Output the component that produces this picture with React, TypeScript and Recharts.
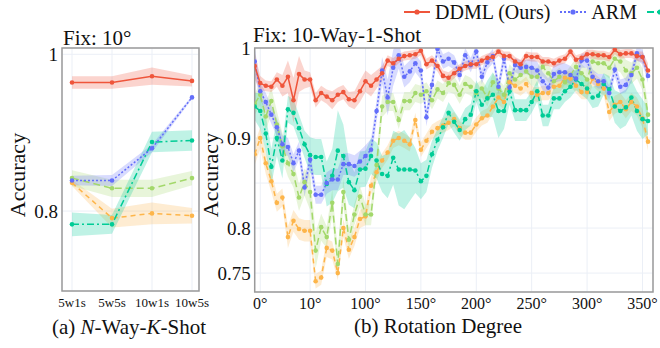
import { ComposedChart, Line, Area, XAxis, YAxis, CartesianGrid, ReferenceArea } from 'recharts';

const FONT = '"Liberation Serif", "Times New Roman", serif';

// ---------------------------------------------------------------------------
// Data: (a) N-Way-K-Shot, rotation fixed at 10°
// ---------------------------------------------------------------------------

const SHOT_LABELS = ['5w1s', '5w5s', '10w1s', '10w5s'];
const SHOT_DDML = [0.964, 0.964, 0.972, 0.966];
const SHOT_ARM = [0.839, 0.839, 0.88, 0.945];
const SHOT_TEAL = [0.783, 0.783, 0.888, 0.89];
const SHOT_GREEN = [0.842, 0.829, 0.829, 0.842];
const SHOT_ORANGE = [0.836, 0.791, 0.797, 0.794];
const SHOT_DDML_STD = [0.008, 0.008, 0.011, 0.007];
const SHOT_ARM_STD = [0.006, 0.007, 0.005, 0.002];
const SHOT_TEAL_STD = [0.015, 0.012, 0.013, 0.013];
const SHOT_GREEN_STD = [0.01, 0.011, 0.011, 0.009];
const SHOT_ORANGE_STD = [0.004, 0.012, 0.014, 0.01];

// ---------------------------------------------------------------------------
// Data: (b) rotation degree, 10-way-1-shot (one value per evaluated angle)
// ---------------------------------------------------------------------------

const ROT_TICKS = [1, 10, 20, 30, 40, 50, 60, 70];
const ROT_TICK_LABELS = ['0°', '10°', '100°', '150°', '200°', '250°', '300°', '350°'];

const ROT_DDML = [
  0.98, 0.961, 0.958, 0.957, 0.965, 0.958, 0.968, 0.942, 0.971, 0.965,
  0.965, 0.942, 0.95, 0.946, 0.942, 0.948, 0.951, 0.943, 0.942, 0.952,
  0.963, 0.958, 0.965, 0.972, 0.986, 0.983, 0.988, 0.991, 0.992, 0.993,
  0.997, 0.982, 0.986, 0.98, 0.969, 0.967, 0.972, 0.977, 0.98, 0.982,
  0.982, 0.986, 0.989, 0.99, 0.996, 0.991, 0.991, 0.985, 0.982, 0.991,
  0.99, 0.99, 0.985, 0.985, 0.983, 0.986, 0.988, 0.996, 0.987, 0.989,
  0.993, 0.993, 0.992, 0.992, 0.99, 0.998, 0.993, 0.994, 0.994, 0.991,
  0.99, 0.975,
];
const ROT_ARM = [
  0.985, 0.952, 0.94, 0.926, 0.912, 0.893, 0.89, 0.872, 0.886, 0.845,
  0.876, 0.837, 0.837, 0.85, 0.854, 0.854, 0.871, 0.871, 0.869, 0.874,
  0.88, 0.887, 0.93, 0.975, 0.945, 0.978, 0.992, 0.968, 0.974, 0.983,
  0.975, 0.923, 0.959, 0.999, 0.985, 0.988, 0.984, 0.97, 0.992, 0.981,
  0.996, 0.968, 0.984, 0.991, 0.957, 0.988, 0.956, 0.981, 0.978, 0.979,
  0.978, 0.975, 0.963, 0.956, 0.971, 0.973, 0.973, 0.97, 0.966, 0.986,
  0.986, 0.968, 0.963, 0.963, 0.95, 0.976, 0.957, 0.959, 0.97, 0.994,
  0.99, 0.969,
];
const ROT_TEAL = [
  0.935, 0.93, 0.905, 0.868, 0.9, 0.875, 0.932, 0.928, 0.911, 0.893,
  0.881, 0.879, 0.879, 0.849, 0.858, 0.886, 0.88, 0.851, 0.842, 0.865,
  0.866, 0.88, 0.875, 0.86, 0.858, 0.878, 0.865, 0.865, 0.865, 0.864,
  0.852, 0.858, 0.882, 0.898, 0.912, 0.928, 0.918, 0.909, 0.921, 0.926,
  0.952, 0.937, 0.944, 0.948, 0.93, 0.93, 0.952, 0.931, 0.931, 0.931,
  0.94, 0.952, 0.925, 0.925, 0.944, 0.944, 0.952, 0.957, 0.965, 0.96,
  0.955, 0.945, 0.947, 0.96, 0.954, 0.935, 0.93, 0.934, 0.945, 0.93,
  0.921, 0.919,
];
const ROT_GREEN = [
  0.938, 0.948, 0.924, 0.941, 0.915, 0.891, 0.872, 0.86, 0.834, 0.851,
  0.84, 0.775, 0.801, 0.79, 0.828, 0.76, 0.84, 0.787, 0.815, 0.835,
  0.815, 0.815, 0.87, 0.935, 0.94, 0.94, 0.92, 0.941, 0.941, 0.95,
  0.948, 0.952, 0.942, 0.954, 0.95, 0.961, 0.959, 0.948, 0.96, 0.957,
  0.95, 0.955, 0.945, 0.962, 0.955, 0.948, 0.972, 0.965, 0.97, 0.974,
  0.968, 0.968, 0.979, 0.972, 0.963, 0.968, 0.962, 0.97, 0.979, 0.972,
  0.965, 0.985, 0.983, 0.983, 0.978, 0.988, 0.985, 0.975, 0.972, 0.978,
  0.965, 0.926,
];
const ROT_ORANGE = [
  0.882, 0.9, 0.872, 0.852, 0.828, 0.834, 0.79, 0.808, 0.799, 0.797,
  0.797, 0.741, 0.745, 0.778, 0.775, 0.75, 0.8, 0.776, 0.79, 0.81,
  0.813, 0.847, 0.862, 0.875, 0.884, 0.897, 0.9, 0.897, 0.893, 0.92,
  0.887, 0.897, 0.907, 0.911, 0.914, 0.917, 0.921, 0.911, 0.906, 0.906,
  0.915, 0.922, 0.925, 0.935, 0.945, 0.94, 0.962, 0.958, 0.955, 0.96,
  0.95, 0.948, 0.95, 0.95, 0.957, 0.958, 0.967, 0.966, 0.958, 0.951,
  0.951, 0.966, 0.96, 0.955, 0.929, 0.937, 0.94, 0.932, 0.94, 0.935,
  0.922, 0.896,
];

const ROT_DDML_STD = [
  0.015, 0.008, 0.006, 0.006, 0.008, 0.012, 0.018, 0.025, 0.02, 0.01,
  0.008, 0.008, 0.008, 0.008, 0.01, 0.008, 0.008, 0.008, 0.01, 0.012,
  0.012, 0.012, 0.01, 0.008, 0.006, 0.006, 0.005, 0.005, 0.005, 0.005,
  0.005, 0.006, 0.006, 0.006, 0.006, 0.006, 0.006, 0.005, 0.005, 0.005,
  0.005, 0.005, 0.005, 0.005, 0.005, 0.005, 0.005, 0.005, 0.005, 0.005,
  0.005, 0.005, 0.005, 0.005, 0.005, 0.005, 0.005, 0.005, 0.005, 0.005,
  0.005, 0.005, 0.005, 0.005, 0.005, 0.005, 0.005, 0.005, 0.005, 0.005,
  0.006, 0.008,
];
const ROT_ARM_STD = [
  0.015, 0.01, 0.01, 0.01, 0.01, 0.01, 0.01, 0.01, 0.01, 0.01,
  0.01, 0.01, 0.01, 0.012, 0.012, 0.012, 0.012, 0.012, 0.012, 0.012,
  0.012, 0.012, 0.012, 0.015, 0.02, 0.02, 0.015, 0.012, 0.012, 0.01,
  0.01, 0.01, 0.01, 0.008, 0.008, 0.008, 0.008, 0.008, 0.008, 0.008,
  0.008, 0.008, 0.008, 0.008, 0.008, 0.008, 0.008, 0.008, 0.008, 0.008,
  0.01, 0.01, 0.01, 0.01, 0.01, 0.01, 0.01, 0.01, 0.008, 0.008,
  0.008, 0.008, 0.008, 0.008, 0.008, 0.008, 0.008, 0.008, 0.008, 0.008,
  0.008, 0.008,
];
const ROT_TEAL_STD = [
  0.015, 0.02, 0.02, 0.02, 0.02, 0.02, 0.015, 0.015, 0.015, 0.015,
  0.02, 0.02, 0.02, 0.025, 0.03, 0.045, 0.035, 0.025, 0.02, 0.02,
  0.02, 0.02, 0.02, 0.02, 0.025, 0.03, 0.04, 0.044, 0.035, 0.025,
  0.02, 0.018, 0.015, 0.012, 0.012, 0.012, 0.012, 0.012, 0.012, 0.012,
  0.012, 0.015, 0.02, 0.025, 0.03, 0.02, 0.015, 0.012, 0.012, 0.012,
  0.012, 0.012, 0.012, 0.012, 0.012, 0.012, 0.012, 0.012, 0.012, 0.012,
  0.012, 0.012, 0.012, 0.012, 0.015, 0.018, 0.02, 0.02, 0.02, 0.022,
  0.022, 0.015,
];
const ROT_GREEN_STD = [
  0.012, 0.012, 0.015, 0.015, 0.015, 0.015, 0.015, 0.015, 0.015, 0.015,
  0.02, 0.02, 0.015, 0.012, 0.015, 0.015, 0.015, 0.012, 0.012, 0.012,
  0.012, 0.012, 0.012, 0.012, 0.01, 0.01, 0.01, 0.01, 0.01, 0.01,
  0.01, 0.01, 0.01, 0.01, 0.01, 0.01, 0.01, 0.01, 0.01, 0.01,
  0.01, 0.01, 0.01, 0.01, 0.01, 0.01, 0.01, 0.01, 0.01, 0.01,
  0.01, 0.01, 0.01, 0.01, 0.01, 0.01, 0.01, 0.01, 0.01, 0.01,
  0.012, 0.012, 0.012, 0.012, 0.012, 0.012, 0.012, 0.012, 0.012, 0.012,
  0.012, 0.012,
];
const ROT_ORANGE_STD = [
  0.012, 0.012, 0.012, 0.012, 0.01, 0.01, 0.012, 0.012, 0.012, 0.012,
  0.012, 0.008, 0.008, 0.01, 0.01, 0.008, 0.01, 0.01, 0.01, 0.01,
  0.01, 0.01, 0.01, 0.008, 0.008, 0.008, 0.008, 0.008, 0.008, 0.008,
  0.008, 0.008, 0.008, 0.008, 0.008, 0.008, 0.008, 0.008, 0.008, 0.008,
  0.008, 0.008, 0.008, 0.008, 0.008, 0.008, 0.008, 0.008, 0.008, 0.008,
  0.008, 0.008, 0.008, 0.008, 0.008, 0.008, 0.008, 0.008, 0.008, 0.008,
  0.008, 0.008, 0.008, 0.008, 0.01, 0.01, 0.01, 0.01, 0.01, 0.01,
  0.01, 0.01,
];

// ---------------------------------------------------------------------------
// Series styling (legend order)
// ---------------------------------------------------------------------------

const SERIES = [
  { key: 'ddml', name: 'DDML (Ours)', color: '#EF553B', dash: undefined as string | undefined },
  { key: 'arm', name: 'ARM', color: '#636EFA', dash: '2 2' },
  { key: 'teal', name: '', color: '#00CC96', dash: '7 3 2 3' },
  { key: 'green', name: '', color: '#A3D86B', dash: '7 4' },
  { key: 'orange', name: '', color: '#FDB54A', dash: '5 4' },
];

const GRID = '#ebeff6';
const BORDER = '#9a9a9a';

function buildRows(values: Record<string, number[]>, stds: Record<string, number[]>) {
  return values.ddml.map((_, i) => {
    const row: Record<string, unknown> = { x: i };
    SERIES.forEach((s) => {
      const v = values[s.key][i];
      const d = stds[s.key][i];
      row[s.key] = v;
      row[`${s.key}Band`] = [v - d, v + d];
    });
    return row;
  });
}

const shotRows = buildRows(
  { ddml: SHOT_DDML, arm: SHOT_ARM, teal: SHOT_TEAL, green: SHOT_GREEN, orange: SHOT_ORANGE },
  { ddml: SHOT_DDML_STD, arm: SHOT_ARM_STD, teal: SHOT_TEAL_STD, green: SHOT_GREEN_STD, orange: SHOT_ORANGE_STD },
);

const rotRows = buildRows(
  { ddml: ROT_DDML, arm: ROT_ARM, teal: ROT_TEAL, green: ROT_GREEN, orange: ROT_ORANGE },
  { ddml: ROT_DDML_STD, arm: ROT_ARM_STD, teal: ROT_TEAL_STD, green: ROT_GREEN_STD, orange: ROT_ORANGE_STD },
);

// ---------------------------------------------------------------------------
// One panel
// ---------------------------------------------------------------------------

interface PanelProps {
  left: number;
  width: number;
  margin: { top: number; right: number; bottom: number; left: number };
  yAxisWidth: number;
  rows: Record<string, unknown>[];
  xDomain: [number, number];
  xTicks: number[];
  xLabels: string[];
  xFontSize: number;
  xTickMargin: number;
  yDomain: [number, number];
  yTicks: number[];
  yLabels: Record<string, string>;
}

function Panel(p: PanelProps) {
  const drawOrder = [...SERIES].reverse();
  return (
    <div style={{ position: 'absolute', left: p.left, top: 0 }}>
      <ComposedChart width={p.width} height={348} data={p.rows} margin={p.margin}>
        <CartesianGrid stroke={GRID} strokeWidth={1} />
        <XAxis
          dataKey="x"
          type="number"
          domain={p.xDomain}
          ticks={p.xTicks}
          interval={0}
          allowDataOverflow
          tickFormatter={(v: number) => p.xLabels[p.xTicks.indexOf(v)] ?? ''}
          axisLine={false}
          tickLine={false}
          tickSize={0}
          tickMargin={p.xTickMargin}
          height={30}
          tick={{ fill: '#111', fontSize: p.xFontSize, fontFamily: FONT }}
        />
        <YAxis
          type="number"
          domain={p.yDomain}
          ticks={p.yTicks}
          interval={0}
          allowDataOverflow
          tickFormatter={(v: number) => p.yLabels[String(v)] ?? ''}
          axisLine={false}
          tickLine={false}
          tickSize={0}
          tickMargin={4}
          width={p.yAxisWidth}
          tick={{ fill: '#111', fontSize: 19, fontFamily: FONT }}
        />
        {drawOrder.map((s) => (
          <Area
            key={`${s.key}-band`}
            dataKey={`${s.key}Band`}
            type="linear"
            stroke="none"
            fill={s.color}
            fillOpacity={0.25}
            dot={false}
            activeDot={false}
            isAnimationActive={false}
          />
        ))}
        {drawOrder.map((s) => (
          <Line
            key={s.key}
            dataKey={s.key}
            type="linear"
            stroke={s.color}
            strokeWidth={1.5}
            strokeDasharray={s.dash}
            dot={{ r: 2.3, fill: s.color, stroke: s.color, strokeWidth: 0 }}
            activeDot={false}
            isAnimationActive={false}
          />
        ))}
        <ReferenceArea
          x1={p.xDomain[0]}
          x2={p.xDomain[1]}
          y1={p.yDomain[0]}
          y2={p.yDomain[1]}
          fill="none"
          fillOpacity={0}
          stroke={BORDER}
          strokeWidth={1.5}
          ifOverflow="visible"
        />
      </ComposedChart>
    </div>
  );
}

// ---------------------------------------------------------------------------
// Text helpers
// ---------------------------------------------------------------------------

const textBase: React.CSSProperties = {
  position: 'absolute',
  fontFamily: FONT,
  color: '#111',
  lineHeight: 1,
  whiteSpace: 'nowrap',
};

function Legend() {
  return (
    <div
      style={{
        position: 'absolute',
        left: 404,
        top: 1,
        height: 22,
        display: 'flex',
        alignItems: 'center',
        fontFamily: FONT,
        fontSize: 20,
        lineHeight: 1,
        whiteSpace: 'nowrap',
      }}
    >
      {SERIES.slice(0, 3).map((s) => (
        <div key={s.key} style={{ display: 'flex', alignItems: 'center', marginRight: 10 }}>
          <svg width={26} height={10} style={{ marginRight: 5 }}>
            <line x1={0} y1={5} x2={26} y2={5} stroke={s.color} strokeWidth={2} strokeDasharray={s.dash} />
            <circle cx={13} cy={5} r={2.6} fill={s.color} />
          </svg>
          {s.name && <span style={{ color: '#111' }}>{s.name}</span>}
        </div>
      ))}
    </div>
  );
}

function RotatedLabel({ text, cx, cy }: { text: string; cx: number; cy: number }) {
  const w = 120;
  const f = 22;
  return (
    <div
      style={{
        ...textBase,
        fontSize: f,
        width: w,
        height: f,
        textAlign: 'center',
        left: cx - w / 2,
        top: cy - f / 2,
        transform: 'rotate(-90deg)',
      }}
    >
      {text}
    </div>
  );
}

// ---------------------------------------------------------------------------
// App
// ---------------------------------------------------------------------------

export default function App() {
  return (
    <div
      style={{
        position: 'absolute',
        left: 0,
        top: 0,
        width: 660,
        height: 348,
        overflow: 'hidden',
        background: '#fff',
      }}
    >
      <Panel
        left={0}
        width={220}
        margin={{ top: 48, right: 21, bottom: 27, left: 2 }}
        yAxisWidth={60}
        rows={shotRows}
        xDomain={[-0.25, 3.175]}
        xTicks={[0, 1, 2, 3]}
        xLabels={SHOT_LABELS}
        xFontSize={13}
        xTickMargin={7}
        yDomain={[0.698, 1.008]}
        yTicks={[0.8, 1]}
        yLabels={{ '0.8': '0.8', '1': '1' }}
      />
      <Panel
        left={200}
        width={460}
        margin={{ top: 48, right: 7, bottom: 26, left: 10 }}
        yAxisWidth={44.7}
        rows={rotRows}
        xDomain={[0, 71.9]}
        xTicks={ROT_TICKS}
        xLabels={ROT_TICK_LABELS}
        xFontSize={16}
        xTickMargin={6}
        yDomain={[0.729, 1]}
        yTicks={[0.75, 0.8, 0.85, 0.9, 0.95, 1]}
        yLabels={{ '0.75': '0.75', '0.8': '0.8', '0.9': '0.9', '1': '1' }}
      />

      <Legend />

      <div style={{ ...textBase, fontSize: 21, left: 63, top: 28 }}>Fix: 10°</div>
      <div style={{ ...textBase, fontSize: 21, left: 253, top: 25 }}>Fix: 10-Way-1-Shot</div>

      <RotatedLabel text="Accuracy" cx={17.5} cy={175} />
      <RotatedLabel text="Accuracy" cx={211} cy={175} />

      <div style={{ ...textBase, fontSize: 21, left: 29, width: 200, textAlign: 'center', top: 317 }}>
        (a) <i>N</i>-Way-<i>K</i>-Shot
      </div>
      <div style={{ ...textBase, fontSize: 21, left: 338, width: 200, textAlign: 'center', top: 316 }}>
        (b) Rotation Degree
      </div>
    </div>
  );
}
